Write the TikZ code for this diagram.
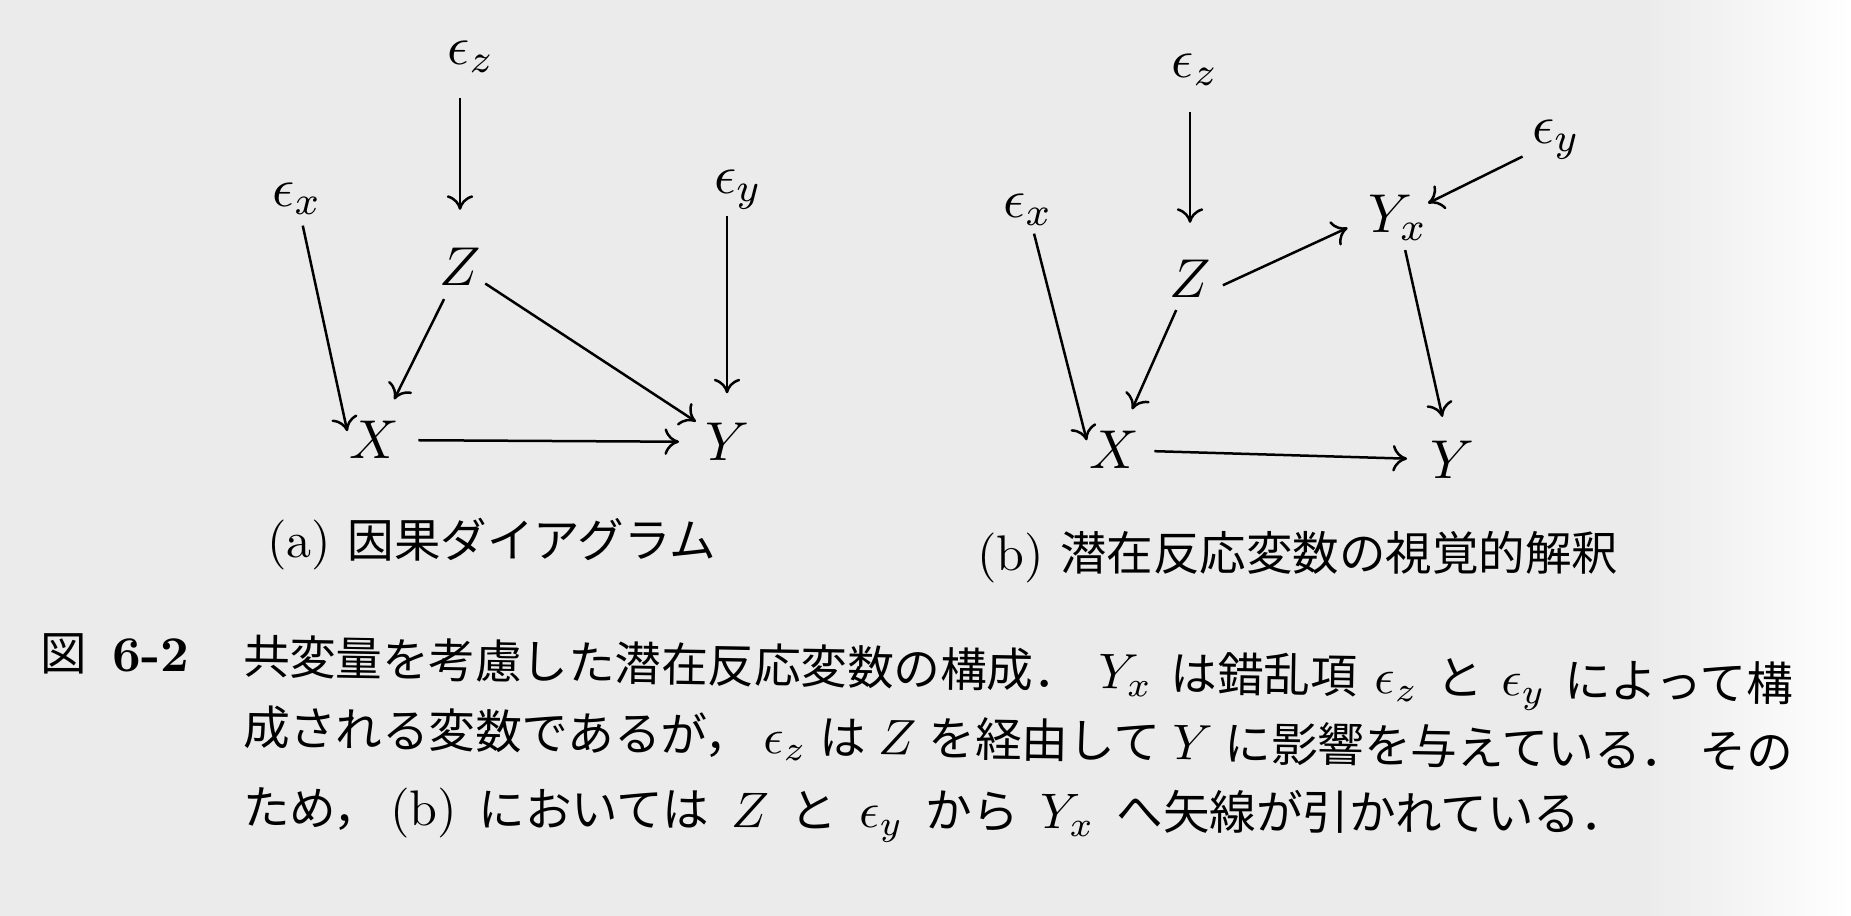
\documentclass[tikz,border=0pt]{standalone}
\usepackage{fontspec}
\newfontfamily\jpfont[Scale=0.93]{Noto Sans CJK JP}
\newcommand\jtext[1]{{\jpfont #1}}
\newcommand\gapw{\hspace{4.4pt}}
\usetikzlibrary{arrows.meta}
\tikzset{
  var/.style={inner sep=0pt, outer sep=0pt, font=\fontsize{10.95}{13}\selectfont},
  arr/.style={line width=0.5pt, -{Computer Modern Rightarrow[length=2.9pt,width=5.3pt]}},
  txt/.style={anchor=base west, inner sep=0pt, outer sep=0pt, font=\fontsize{10}{12}\selectfont},
}
\begin{document}
\begin{tikzpicture}[x=0.2pt, y=-0.2pt]
\useasboundingbox (0,0) rectangle (1851,916);
\fill[black!8] (0,0) rectangle (1851,916);
\shade[left color=black!8, right color=white] (1640,0) rectangle (1851,916);

% ---------- panel (a)
\node[var] (eza) at (471,57)  {$\epsilon_z$};
\node[var] (exa) at (297,199) {$\epsilon_x$};
\node[var] (eya) at (738,190) {$\epsilon_y$};
\node[var] (Za)  at (460,267) {$Z$};
\node[var] (Xa)  at (374,440) {$X$};
\node[var] (Ya)  at (727,442) {$Y$};

\draw[arr, shorten <=5pt,   shorten >=7.7pt] (Za |- eza.south) -- (Za);
\draw[arr, shorten <=2.2pt, shorten >=1.8pt] (exa) -- (Xa.west);
\draw[arr, shorten <=3pt,   shorten >=4.9pt] (Za) -- (Xa);
\draw[arr, shorten <=1.1pt, shorten >=2.2pt] (Za) -- (Ya);
\draw[arr, shorten <=3.9pt, shorten >=5.2pt] (Xa) -- (Ya);
\draw[arr, shorten <=1.2pt, shorten >=6pt]   (Ya |- eya.south) -- (Ya);

\node[txt] (capa) at (267,558) {(a) \jtext{因果ダイアグラム}};

% ---------- panel (b)
\node[var] (ezb) at (1195,70)  {$\epsilon_z$};
\node[var] (exb) at (1028,210) {$\epsilon_x$};
\node[var] (eyb) at (1556,140) {$\epsilon_y$};
\node[var] (Yxb) at (1398,218) {$Y_x$};
\node[var] (Zb)  at (1190,279) {$Z$};
\node[var] (Xb)  at (1114,450) {$X$};
\node[var] (Yb)  at (1452,460) {$Y$};

\draw[arr, shorten <=5.2pt, shorten >=7.5pt] (Zb |- ezb.south) -- (Zb);
\draw[arr, shorten <=1.6pt, shorten >=2pt]   (exb) -- (Xb.west);
\draw[arr, shorten <=2.7pt, shorten >=4.8pt] (Zb) -- (Xb);
\draw[arr, shorten <=2.7pt, shorten >=4.7pt] (Zb.-30) -- (Yxb.west);
\draw[arr, shorten <=2.2pt, shorten >=0.2pt] (eyb) -- (Yxb);
\draw[arr, shorten <=1.9pt, shorten >=5pt]   (Yxb) -- (Yb);
\draw[arr, shorten <=3.1pt, shorten >=4.6pt] (Xb) -- (Yb);

\node[txt] (capb) at (977,571) {(b) \jtext{潜在反応変数の視覚的解釈}};

% ---------- figure caption
\node[txt] (fig)  at (40,671)  {\jtext{図}};
\node[txt] (fnum) at (113,672) {\textbf{6-2}};
\node[txt, rotate=-1] (l1) at (243,674) {\makebox[310pt][s]{\jtext{共変量を考慮した潜在反応変数の構成．} $Y_x$ \jtext{は錯乱項} $\epsilon_z$ \jtext{と} $\epsilon_y$ \jtext{によって構}}};
\node[txt, rotate=-0.9] (l2) at (243,745) {\makebox[310pt][s]{\jtext{成される変数であるが，} $\epsilon_z$ \jtext{は} $Z$ \jtext{を経由して} $Y$ \jtext{に影響を与えている．} \jtext{その}}};
\node[txt, rotate=-0.25] (l3) at (243,825) {\jtext{ため，}\hspace{2pt}(b)\gapw\jtext{においては}\gapw$Z$\gapw\jtext{と}\gapw$\epsilon_y$\gapw\jtext{から}\gapw$Y_x$\gapw\jtext{へ矢線が引かれている．}};
\end{tikzpicture}
\end{document}
